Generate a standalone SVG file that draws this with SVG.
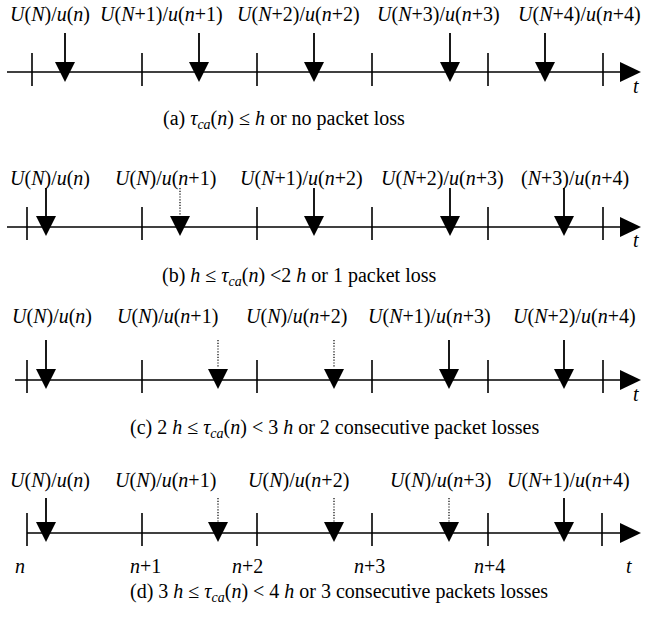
<svg xmlns="http://www.w3.org/2000/svg" width="648" height="621" viewBox="0 0 648 621">
<defs>
<style>
text{font-family:"Liberation Serif","Times New Roman",serif;font-size:20px;fill:#000}
.i{font-style:italic}
.sub{font-size:14px;font-style:italic}
.ax{stroke:#000;stroke-width:1.6;fill:none}
.tk{stroke:#000;stroke-width:1.6}
.sh{stroke:#000;stroke-width:1.8}
.dt{stroke:#000;stroke-width:1.2;stroke-dasharray:1.2 1.6}
.hd{fill:#000}
</style>
<polygon id="tri" points="-10,-11 10,-11 0,9" class="hd"/>
<polygon id="axh" points="0,-10 21,0 0,10" class="hd"/>
</defs>

<!-- panel a -->
<g id="panel-a">
<g id="labels-a">
<text x="10" y="21"><tspan class="i">U</tspan>(<tspan class="i">N</tspan>)/<tspan class="i">u</tspan>(<tspan class="i">n</tspan>)</text>
<text x="100" y="21"><tspan class="i">U</tspan>(<tspan class="i">N</tspan>+1)/<tspan class="i">u</tspan>(<tspan class="i">n</tspan>+1)</text>
<text x="237" y="21"><tspan class="i">U</tspan>(<tspan class="i">N</tspan>+2)/<tspan class="i">u</tspan>(<tspan class="i">n</tspan>+2)</text>
<text x="377" y="21"><tspan class="i">U</tspan>(<tspan class="i">N</tspan>+3)/<tspan class="i">u</tspan>(<tspan class="i">n</tspan>+3)</text>
<text x="518" y="21"><tspan class="i">U</tspan>(<tspan class="i">N</tspan>+4)/<tspan class="i">u</tspan>(<tspan class="i">n</tspan>+4)</text>
</g>
<g id="axis-a">
<line x1="7" y1="72" x2="621" y2="72" class="ax"/>
<use href="#axh" x="620" y="72"/>
<line x1="32" y1="53" x2="32" y2="86" class="tk"/>
<line x1="142" y1="53" x2="142" y2="86" class="tk"/>
<line x1="257" y1="53" x2="257" y2="86" class="tk"/>
<line x1="372" y1="53" x2="372" y2="86" class="tk"/>
<line x1="488" y1="53" x2="488" y2="86" class="tk"/>
<line x1="603" y1="53" x2="603" y2="86" class="tk"/>
<text x="633" y="93" class="i">t</text>
</g>
<g id="arrows-a">
<line x1="65" y1="33" x2="65" y2="62" class="sh"/><use href="#tri" x="65" y="73"/>
<line x1="199" y1="33" x2="199" y2="62" class="sh"/><use href="#tri" x="199" y="73"/>
<line x1="314" y1="33" x2="314" y2="62" class="sh"/><use href="#tri" x="314" y="73"/>
<line x1="450" y1="33" x2="450" y2="62" class="sh"/><use href="#tri" x="450" y="73"/>
<line x1="545" y1="33" x2="545" y2="62" class="sh"/><use href="#tri" x="545" y="73"/>
</g>
<text x="163" y="125">(a) <tspan class="i">τ</tspan><tspan class="sub" dy="4">ca</tspan><tspan dy="-4">(</tspan><tspan class="i">n</tspan>) ≤ <tspan class="i">h</tspan> or no packet loss</text>
</g>

<!-- panel b -->
<g id="panel-b">
<g id="labels-b">
<text x="10" y="185"><tspan class="i">U</tspan>(<tspan class="i">N</tspan>)/<tspan class="i">u</tspan>(<tspan class="i">n</tspan>)</text>
<text x="115" y="185"><tspan class="i">U</tspan>(<tspan class="i">N</tspan>)/<tspan class="i">u</tspan>(<tspan class="i">n</tspan>+1)</text>
<text x="240" y="185"><tspan class="i">U</tspan>(<tspan class="i">N</tspan>+1)/<tspan class="i">u</tspan>(<tspan class="i">n</tspan>+2)</text>
<text x="381" y="185"><tspan class="i">U</tspan>(<tspan class="i">N</tspan>+2)/<tspan class="i">u</tspan>(<tspan class="i">n</tspan>+3)</text>
<text x="521" y="185">(<tspan class="i">N</tspan>+3)/<tspan class="i">u</tspan>(<tspan class="i">n</tspan>+4)</text>
</g>
<g id="axis-b">
<line x1="7" y1="227" x2="621" y2="227" class="ax"/>
<use href="#axh" x="620" y="227"/>
<line x1="27" y1="207" x2="27" y2="240" class="tk"/>
<line x1="142" y1="207" x2="142" y2="240" class="tk"/>
<line x1="257" y1="207" x2="257" y2="240" class="tk"/>
<line x1="372" y1="207" x2="372" y2="240" class="tk"/>
<line x1="488" y1="207" x2="488" y2="240" class="tk"/>
<line x1="603" y1="207" x2="603" y2="240" class="tk"/>
<text x="633" y="247" class="i">t</text>
</g>
<g id="arrows-b">
<line x1="46" y1="188" x2="46" y2="216" class="sh"/><use href="#tri" x="46" y="227"/>
<line x1="180" y1="188" x2="180" y2="215" class="dt"/><use href="#tri" x="180" y="227"/>
<line x1="314" y1="188" x2="314" y2="216" class="sh"/><use href="#tri" x="314" y="227"/>
<line x1="450" y1="188" x2="450" y2="216" class="sh"/><use href="#tri" x="450" y="227"/>
<line x1="564" y1="188" x2="564" y2="216" class="sh"/><use href="#tri" x="564" y="227"/>
</g>
<text x="162" y="282">(b) <tspan class="i">h</tspan> ≤ <tspan class="i">τ</tspan><tspan class="sub" dy="4">ca</tspan><tspan dy="-4">(</tspan><tspan class="i">n</tspan>) &lt;2 <tspan class="i">h</tspan> or 1 packet loss</text>
</g>

<!-- panel c -->
<g id="panel-c">
<g id="labels-c">
<text x="12" y="323"><tspan class="i">U</tspan>(<tspan class="i">N</tspan>)/<tspan class="i">u</tspan>(<tspan class="i">n</tspan>)</text>
<text x="117" y="323"><tspan class="i">U</tspan>(<tspan class="i">N</tspan>)/<tspan class="i">u</tspan>(<tspan class="i">n</tspan>+1)</text>
<text x="246" y="323"><tspan class="i">U</tspan>(<tspan class="i">N</tspan>)/<tspan class="i">u</tspan>(<tspan class="i">n</tspan>+2)</text>
<text x="368" y="323"><tspan class="i">U</tspan>(<tspan class="i">N</tspan>+1)/<tspan class="i">u</tspan>(<tspan class="i">n</tspan>+3)</text>
<text x="513" y="323"><tspan class="i">U</tspan>(<tspan class="i">N</tspan>+2)/<tspan class="i">u</tspan>(<tspan class="i">n</tspan>+4)</text>
</g>
<g id="axis-c">
<line x1="15" y1="380" x2="621" y2="380" class="ax"/>
<use href="#axh" x="620" y="380"/>
<line x1="27" y1="360" x2="27" y2="393" class="tk"/>
<line x1="142" y1="360" x2="142" y2="393" class="tk"/>
<line x1="257" y1="360" x2="257" y2="393" class="tk"/>
<line x1="372" y1="360" x2="372" y2="393" class="tk"/>
<line x1="488" y1="360" x2="488" y2="393" class="tk"/>
<line x1="603" y1="360" x2="603" y2="393" class="tk"/>
<text x="633" y="401" class="i">t</text>
</g>
<g id="arrows-c">
<line x1="46" y1="340" x2="46" y2="369" class="sh"/><use href="#tri" x="46" y="380"/>
<line x1="218" y1="340" x2="218" y2="368" class="dt"/><use href="#tri" x="218" y="380"/>
<line x1="334" y1="340" x2="334" y2="368" class="dt"/><use href="#tri" x="334" y="380"/>
<line x1="449" y1="340" x2="449" y2="369" class="sh"/><use href="#tri" x="449" y="380"/>
<line x1="564" y1="340" x2="564" y2="369" class="sh"/><use href="#tri" x="564" y="380"/>
</g>
<text x="130" y="434">(c) 2 <tspan class="i">h</tspan> ≤ <tspan class="i">τ</tspan><tspan class="sub" dy="4">ca</tspan><tspan dy="-4">(</tspan><tspan class="i">n</tspan>) &lt; 3 <tspan class="i">h</tspan> or 2 consecutive packet losses</text>
</g>

<!-- panel d -->
<g id="panel-d">
<g id="labels-d">
<text x="10" y="487"><tspan class="i">U</tspan>(<tspan class="i">N</tspan>)/<tspan class="i">u</tspan>(<tspan class="i">n</tspan>)</text>
<text x="115" y="487"><tspan class="i">U</tspan>(<tspan class="i">N</tspan>)/<tspan class="i">u</tspan>(<tspan class="i">n</tspan>+1)</text>
<text x="248" y="487"><tspan class="i">U</tspan>(<tspan class="i">N</tspan>)/<tspan class="i">u</tspan>(<tspan class="i">n</tspan>+2)</text>
<text x="390" y="487"><tspan class="i">U</tspan>(<tspan class="i">N</tspan>)/<tspan class="i">u</tspan>(<tspan class="i">n</tspan>+3)</text>
<text x="507" y="487"><tspan class="i">U</tspan>(<tspan class="i">N</tspan>+1)/<tspan class="i">u</tspan>(<tspan class="i">n</tspan>+4)</text>
</g>
<g id="axis-d">
<line x1="27" y1="533" x2="621" y2="533" class="ax"/>
<use href="#axh" x="620" y="533"/>
<line x1="27" y1="513" x2="27" y2="546" class="tk"/>
<line x1="142" y1="513" x2="142" y2="546" class="tk"/>
<line x1="257" y1="513" x2="257" y2="546" class="tk"/>
<line x1="372" y1="513" x2="372" y2="546" class="tk"/>
<line x1="488" y1="513" x2="488" y2="546" class="tk"/>
<line x1="602" y1="513" x2="602" y2="546" class="tk"/>
<text x="15" y="573" class="i">n</text>
<text x="130" y="573"><tspan class="i">n</tspan>+1</text>
<text x="232" y="573"><tspan class="i">n</tspan>+2</text>
<text x="354" y="573"><tspan class="i">n</tspan>+3</text>
<text x="474" y="573"><tspan class="i">n</tspan>+4</text>
<text x="626" y="573" class="i">t</text>
</g>
<g id="arrows-d">
<line x1="46" y1="498" x2="46" y2="523" class="sh"/><use href="#tri" x="46" y="533"/>
<line x1="218" y1="498" x2="218" y2="522" class="dt"/><use href="#tri" x="218" y="533"/>
<line x1="334" y1="498" x2="334" y2="522" class="dt"/><use href="#tri" x="334" y="533"/>
<line x1="449" y1="498" x2="449" y2="522" class="dt"/><use href="#tri" x="449" y="533"/>
<line x1="564" y1="498" x2="564" y2="523" class="sh"/><use href="#tri" x="564" y="533"/>
</g>
<text x="130" y="598">(d) 3 <tspan class="i">h</tspan> ≤ <tspan class="i">τ</tspan><tspan class="sub" dy="4">ca</tspan><tspan dy="-4">(</tspan><tspan class="i">n</tspan>) &lt; 4 <tspan class="i">h</tspan> or 3 consecutive packets losses</text>
</g>
</svg>
